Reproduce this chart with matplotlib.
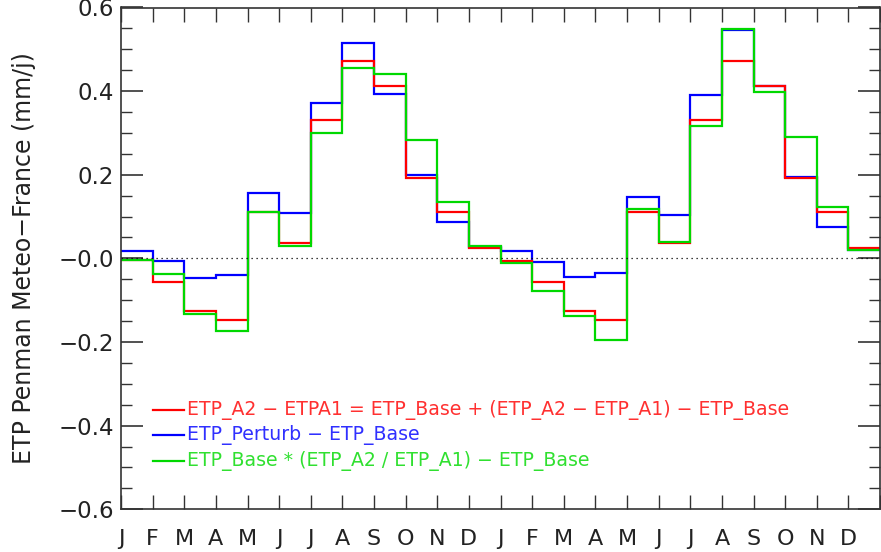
import numpy as np
import matplotlib.pyplot as plt
from matplotlib.ticker import MultipleLocator

plt.rcParams['font.family'] = 'DejaVu Sans'

months = ['J', 'F', 'M', 'A', 'M', 'J', 'J', 'A', 'S', 'O', 'N', 'D'] * 2
ytick_vals = [-0.6, -0.4, -0.2, 0.0, 0.2, 0.4, 0.6]
ytick_labels = ['\u22120.6', '\u22120.4', '\u22120.2', '\u22120.0', '0.2', '0.4', '0.6']

# ETP_A2 - ETPA1 (red)
etp_a2_a1 = [-0.005, -0.056, -0.126, -0.148, 0.111, 0.036, 0.330, 0.473, 0.412, 0.193, 0.112, 0.024,
             -0.006, -0.056, -0.126, -0.148, 0.111, 0.036, 0.330, 0.473, 0.412, 0.193, 0.111, 0.024]
# ETP_Perturb - ETP_Base (blue)
etp_perturb = [0.018, -0.007, -0.046, -0.040, 0.156, 0.108, 0.372, 0.516, 0.392, 0.200, 0.088, 0.028,
               0.017, -0.008, -0.044, -0.036, 0.148, 0.103, 0.391, 0.545, 0.412, 0.195, 0.075, 0.020]
# ETP_Base * (ETP_A2 / ETP_A1) - ETP_Base (green)
etp_ratio = [-0.005, -0.037, -0.134, -0.174, 0.111, 0.030, 0.300, 0.455, 0.441, 0.282, 0.136, 0.029,
             -0.010, -0.077, -0.137, -0.194, 0.118, 0.040, 0.316, 0.549, 0.397, 0.290, 0.123, 0.020]

labels = ['ETP_A2 \u2212 ETPA1 = ETP_Base + (ETP_A2 \u2212 ETP_A1) \u2212 ETP_Base',
          'ETP_Perturb \u2212 ETP_Base',
          'ETP_Base * (ETP_A2 / ETP_A1) \u2212 ETP_Base']

red = '#ff0000'
blue = '#0000ff'
green = '#00d800'
txt = '#222222'

fig = plt.figure(figsize=(8.81, 5.52), dpi=100)
ax = fig.add_axes([121 / 881, 1 - 509.3 / 552, 1 - 121 / 881 - 0.001, (509.3 - 7.5) / 552])

edges = np.arange(len(months) + 1)
ax.stairs(etp_perturb, edges, baseline=None, color=blue, linewidth=1.6)
ax.stairs(etp_a2_a1, edges, baseline=None, color=red, linewidth=1.6)
ax.stairs(etp_ratio, edges, baseline=None, color=green, linewidth=1.6)

ax.axhline(0, color='black', linestyle=(0, (1, 3)), linewidth=0.9)

ax.set_xlim(0, len(months))
ax.set_ylim(-0.6, 0.6)

ax.set_xticks(edges)
ax.set_xticklabels(months + [''], fontsize=16, color=txt)
ax.set_yticks(ytick_vals)
ax.set_yticklabels(ytick_labels, fontsize=16.5, color=txt)
ax.yaxis.set_minor_locator(MultipleLocator(0.05))

ax.tick_params(axis='both', which='major', direction='in', top=True, right=True, color='#333333')
ax.tick_params(axis='y', which='major', length=16, width=1.2, pad=5)
ax.tick_params(axis='y', which='minor', direction='in', right=True, length=8, width=1, color='#333333')
ax.tick_params(axis='x', which='major', length=10, width=1, pad=14)
for s in ax.spines.values():
    s.set_color('#333333')
    s.set_linewidth(1.2)

ax.set_ylabel('ETP Penman Meteo\u2212France (mm/j)', fontsize=17, color=txt)
ax.yaxis.set_label_coords(-0.112, 0.5)

# legend drawn by hand like the IDL original
leg_y = [-0.362, -0.423, -0.484]
for lab, col, yy, tcol in zip(labels, [red, blue, green], leg_y, ['#ff3030', '#3030ff', '#30e030']):
    ax.plot([1, 2], [yy, yy], color=col, linewidth=1.6)
    ax.text(2.1, yy, lab, color=tcol, fontsize=13.6, va='center', ha='left')

fig.savefig('out.png', dpi=100)
